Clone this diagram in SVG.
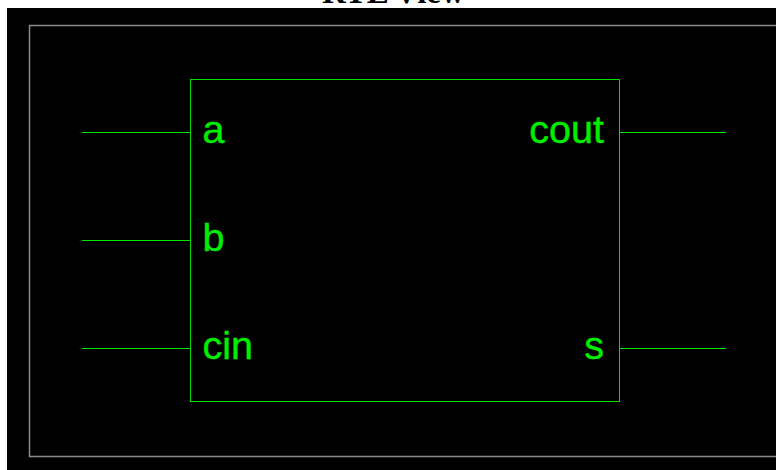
<svg xmlns="http://www.w3.org/2000/svg" width="776" height="470" viewBox="0 0 776 470">
  <style>
    .wire { stroke: #00e800; stroke-width: 1; fill: none; }
    .box { stroke: #00e000; stroke-width: 1; fill: none; }
    .frame { stroke: #8a8a8a; stroke-width: 1.5; fill: none; }
    .lbl { fill: #00ee00; stroke: #00ee00; stroke-width: 0.4; font-family: "Liberation Sans", Arial, sans-serif; font-size: 39.5px; }
    .title { fill: #000; font-family: "Liberation Serif", "Times New Roman", serif; font-size: 33px; font-weight: bold; }
  </style>
  <rect x="0" y="0" width="776" height="470" fill="#ffffff"/>
  <text class="title" x="322" y="2.5">RTL View</text>
  <rect x="7" y="8" width="769" height="462" fill="#000000"/>
  <g id="frame">
    <polyline class="frame" points="780,25.5 29.5,25.5 29.5,456.5 780,456.5"/>
  </g>
  <g id="connectors">
    <line class="wire" x1="82" y1="132.5" x2="190.5" y2="132.5"/>
    <line class="wire" x1="82" y1="240.5" x2="190.5" y2="240.5"/>
    <line class="wire" x1="82" y1="348.5" x2="190.5" y2="348.5"/>
    <line class="wire" x1="619.5" y1="132.5" x2="726" y2="132.5"/>
    <line class="wire" x1="619.5" y1="348.5" x2="726" y2="348.5"/>
  </g>
  <g id="block">
    <rect class="box" x="190.5" y="79.5" width="429" height="322"/>
    <text class="lbl" x="202.5" y="143">a</text>
    <text class="lbl" x="202.5" y="251">b</text>
    <text class="lbl" x="202.5" y="359">cin</text>
    <text class="lbl" x="604" y="143" text-anchor="end">cout</text>
    <text class="lbl" x="604" y="359" text-anchor="end">s</text>
  </g>
</svg>
